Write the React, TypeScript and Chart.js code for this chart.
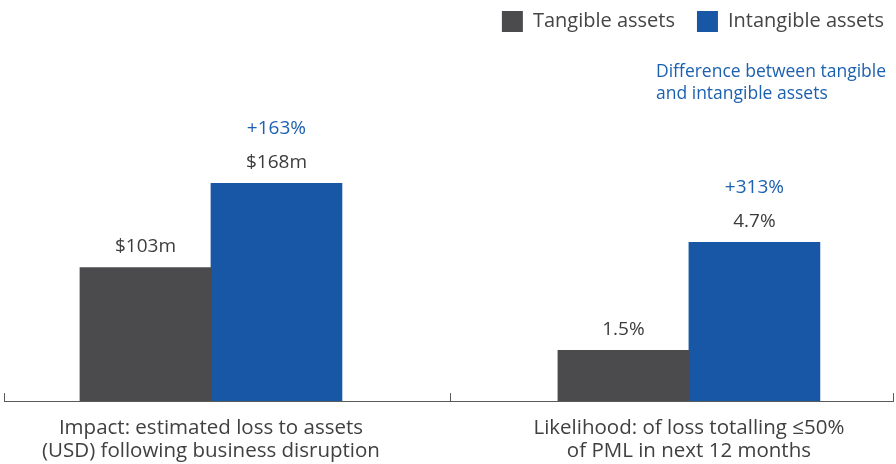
import { useEffect, useRef } from "react";
import { Chart, registerables } from "chart.js";

Chart.register(...registerables);

// ---- data ----
const CATEGORY_LABELS: string[][] = [
  ["Impact: estimated loss to assets", "(USD) following business disruption"],
  ["Likelihood: of loss totalling ≤50%", "of PML in next 12 months"],
];
const CATEGORY_X = [1, 2];
const SERIES_NAMES = ["Tangible assets", "Intangible assets"];
const IMPACT_VALUES = [103, 168]; // USD m: tangible, intangible
const LIKELIHOOD_VALUES = [1.5, 4.7]; // %: tangible, intangible
const VALUE_PREFIX = ["$", ""];
const VALUE_SUFFIX = ["m", "%"];
const DIFF_LABELS = ["+163%", "+313%"];
const NOTE_LINES = ["Difference between tangible", "and intangible assets"];

// ---- styles ----
const FONT = "'Open Sans', 'Noto Sans', sans-serif";
const SERIES_COLORS = ["#4b4b4d", "#1857a5"];
const TEXT_COLOR = "#3c3c3c";
const BLUE_TEXT = "#1c60b0";
const AXIS_COLOR = "#5a5a5a";
const X_MIN = 0.567;
const X_MAX = 2.427;
const Y_AXES = ["yImpact", "yLikelihood"];
const Y_MAX = [268.5, 10.3];
const LEGEND_SHIFT_X = 13;
const LEGEND_SHIFT_Y = -11;

const GROUP_VALUES = [IMPACT_VALUES, LIKELIHOOD_VALUES];

function buildDatasets() {
  const sets: any[] = [];
  GROUP_VALUES.forEach((values, g) => {
    values.forEach((v, s) => {
      sets.push({
        label: SERIES_NAMES[s],
        data: CATEGORY_X.map((x, i) => ({ x, y: i === g ? v : null })),
        yAxisID: Y_AXES[g],
        backgroundColor: SERIES_COLORS[s],
        borderWidth: 0,
        barThickness: 131,
        skipNull: true,
        seriesIndex: s,
        groupIndex: g,
      });
    });
  });
  return sets;
}

const annotatePlugin = {
  id: "annotate",
  afterLayout(chart: any) {
    const lg = chart.legend;
    if (lg) {
      lg.left += LEGEND_SHIFT_X;
      lg.right += LEGEND_SHIFT_X;
      lg.top += LEGEND_SHIFT_Y;
      lg.bottom += LEGEND_SHIFT_Y;
    }
  },
  afterDatasetsDraw(chart: any) {
    const ctx = chart.ctx;
    ctx.save();
    ctx.textAlign = "center";
    ctx.textBaseline = "middle";
    chart.data.datasets.forEach((ds: any, di: number) => {
      const meta = chart.getDatasetMeta(di);
      meta.data.forEach((bar: any, i: number) => {
        const v = ds.data[i].y;
        if (v === null || v === undefined) return;
        ctx.font = `19px ${FONT}`;
        ctx.fillStyle = TEXT_COLOR;
        ctx.fillText(`${VALUE_PREFIX[ds.groupIndex]}${v}${VALUE_SUFFIX[ds.groupIndex]}`, bar.x, bar.y - 21);
        if (ds.seriesIndex === 1) {
          ctx.fillStyle = BLUE_TEXT;
          ctx.fillText(DIFF_LABELS[ds.groupIndex], bar.x, bar.y - 55);
        }
      });
    });
    ctx.restore();
  },
  afterDraw(chart: any) {
    const ctx = chart.ctx;
    const xs = chart.scales.x;
    ctx.save();
    // category boundary tick marks
    ctx.strokeStyle = AXIS_COLOR;
    ctx.lineWidth = 1;
    const bounds = [xs.min, (CATEGORY_X[0] + CATEGORY_X[1]) / 2, xs.max];
    bounds.forEach((b) => {
      const px = Math.round(xs.getPixelForValue(b)) + 0.5;
      ctx.beginPath();
      ctx.moveTo(px, xs.top);
      ctx.lineTo(px, xs.top - 8);
      ctx.stroke();
    });
    // note
    ctx.font = `17.5px ${FONT}`;
    ctx.fillStyle = BLUE_TEXT;
    ctx.textAlign = "left";
    ctx.textBaseline = "middle";
    NOTE_LINES.forEach((line, i) => {
      ctx.fillText(line, chart.width - 240, 72 + i * 22);
    });
    ctx.restore();
  },
};

export default function App() {
  const ref = useRef<HTMLCanvasElement | null>(null);
  useEffect(() => {
    if (!ref.current) return;
    const chart = new Chart(ref.current, {
      type: "bar",
      data: { datasets: buildDatasets() },
      plugins: [annotatePlugin],
      options: {
        animation: false,
        responsive: true,
        maintainAspectRatio: false,
        layout: { padding: { left: 4, right: 3, top: 0, bottom: -15 } },
        plugins: {
          tooltip: { enabled: false },
          legend: {
            position: "top",
            align: "end",
            labels: {
              boxWidth: 21,
              boxHeight: 21,
              padding: 22,
              color: "#454545",
              font: { family: FONT, size: 20 },
              filter: (item: any) => item.datasetIndex < 2,
            },
          },
        },
        scales: {
          x: {
            type: "linear",
            min: X_MIN,
            max: X_MAX,
            offset: false,
            grid: { display: false, drawTicks: false },
            border: { display: true, color: AXIS_COLOR, width: 1 },
            afterBuildTicks: (s: any) => {
              s.ticks = CATEGORY_X.map((v) => ({ value: v }));
            },
            ticks: {
              autoSkip: false,
              maxRotation: 0,
              padding: 16,
              color: "#404040",
              font: { family: FONT, size: 20.5, lineHeight: 1.12 },
              callback: (v: any) => CATEGORY_LABELS[CATEGORY_X.indexOf(Number(v))],
            },
          },
          yImpact: { display: false, min: 0, max: Y_MAX[0] },
          yLikelihood: { display: false, min: 0, max: Y_MAX[1] },
        },
      } as any,
    });
    return () => chart.destroy();
  }, []);
  return (
    <div style={{ position: "fixed", left: 0, top: 0, width: 896, height: 464 }}>
      <canvas ref={ref} />
    </div>
  );
}
